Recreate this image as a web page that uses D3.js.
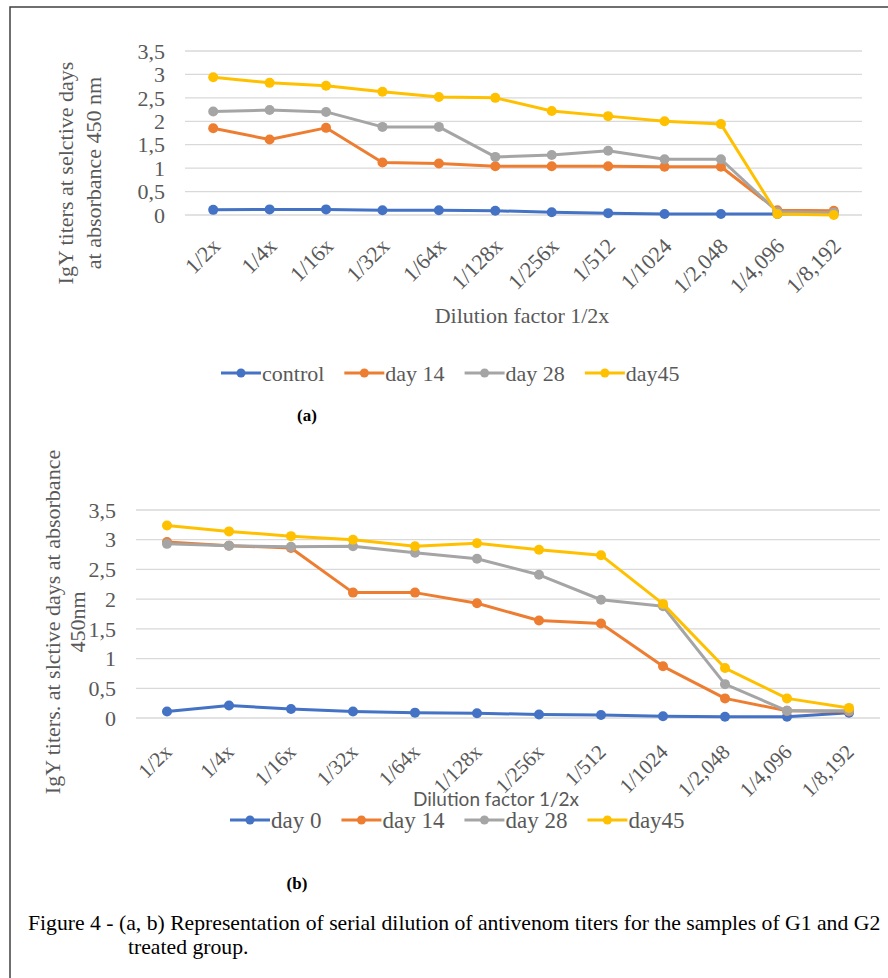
<!DOCTYPE html>
<html>
<head>
<meta charset="utf-8">
<script src="https://cdn.jsdelivr.net/npm/d3@7"></script>
<style>
  body { margin: 0; background: #fff; }
  text { font-family: "Liberation Serif", "Times New Roman", serif; }
</style>
</head>
<body>
<script>
// dilution steps shared by both panels
var categories = ["1/2x", "1/4x", "1/16x", "1/32x", "1/64x", "1/128x", "1/256x",
                  "1/512", "1/1024", "1/2,048", "1/4,096", "1/8,192"];
var yTicks = [0, 0.5, 1, 1.5, 2, 2.5, 3, 3.5];
var colors = ["#4472C4", "#ED7D31", "#A5A5A5", "#FFC000"];

// panel (a)
var seriesA = ["control", "day 14", "day 28", "day45"];
var controlA = [0.11, 0.12, 0.12, 0.10, 0.10, 0.09, 0.06, 0.04, 0.02, 0.02, 0.02, 0.05];
var day14A   = [1.85, 1.61, 1.86, 1.12, 1.10, 1.04, 1.04, 1.04, 1.03, 1.03, 0.10, 0.09];
var day28A   = [2.21, 2.24, 2.20, 1.88, 1.88, 1.24, 1.28, 1.37, 1.19, 1.19, 0.07, 0.05];
var day45A   = [2.94, 2.82, 2.76, 2.63, 2.52, 2.50, 2.22, 2.11, 2.00, 1.94, 0.02, 0.00];

// panel (b)
var seriesB = ["day 0", "day 14", "day 28", "day45"];
var day0B  = [0.11, 0.21, 0.15, 0.11, 0.09, 0.08, 0.06, 0.05, 0.03, 0.02, 0.02, 0.09];
var day14B = [2.96, 2.90, 2.86, 2.11, 2.11, 1.93, 1.64, 1.59, 0.87, 0.33, 0.12, 0.11];
var day28B = [2.93, 2.90, 2.88, 2.89, 2.78, 2.68, 2.41, 1.99, 1.88, 0.57, 0.12, 0.12];
var day45B = [3.24, 3.14, 3.06, 3.00, 2.89, 2.94, 2.83, 2.74, 1.92, 0.84, 0.33, 0.17];

var W = 888, H = 978;
var svg = d3.select("body").append("svg")
            .attr("width", W)
            .attr("height", H);

// frame of the figure (only left and top edges show)
svg.append("path")
   .attr("d", "M10," + H + "V7H" + W)
   .attr("fill", "none")
   .attr("stroke", "#404040")
   .attr("stroke-width", 1.5);

var fmt = function(d) { return String(d).replace(".", ","); };

function drawPanel(cfg) {
  var x = d3.scaleBand().domain(categories).range([cfg.x0, cfg.x1]);
  var y = d3.scaleLinear().domain([0, 3.5]).range([cfg.y0, cfg.y1]);
  var cx = function(d, i) { return x(categories[i]) + x.bandwidth() / 2; };
  var g = svg.append("g");

  // gridlines
  g.selectAll("line.grid")
   .data(yTicks)
   .enter()
   .append("line")
   .attr("x1", cfg.x0).attr("x2", cfg.x1)
   .attr("y1", function(d) { return y(d); })
   .attr("y2", function(d) { return y(d); })
   .attr("stroke", "#D9D9D9")
   .attr("stroke-width", 1.3);

  // y tick labels
  g.selectAll("text.ytick")
   .data(yTicks)
   .enter()
   .append("text")
   .attr("x", cfg.x0 - 20)
   .attr("y", function(d) { return y(d); })
   .attr("dy", "0.35em")
   .attr("text-anchor", "end")
   .attr("font-size", 22)
   .attr("fill", "#595959")
   .text(fmt);

  // x tick labels, slanted
  g.selectAll("text.xtick")
   .data(categories)
   .enter()
   .append("text")
   .attr("transform", function(d) {
     return "translate(" + (x(d) + x.bandwidth() / 2 + cfg.tickDx) + "," + (cfg.y0 + cfg.tickOff) + ") rotate(-45)";
   })
   .attr("dy", "0.35em")
   .attr("text-anchor", "end")
   .attr("font-size", cfg.tickSize)
   .attr("fill", "#595959")
   .text(function(d) { return d; });

  var line = d3.line()
               .x(cx)
               .y(function(d) { return y(d); });

  cfg.values.forEach(function(vals, k) {
    g.append("path")
     .datum(vals)
     .attr("d", line)
     .attr("fill", "none")
     .attr("stroke", colors[k])
     .attr("stroke-width", 3)
     .attr("stroke-linejoin", "round");
    g.selectAll("circle.s" + k)
     .data(vals)
     .enter()
     .append("circle")
     .attr("cx", cx)
     .attr("cy", function(d) { return y(d); })
     .attr("r", 5)
     .attr("fill", colors[k]);
  });

  // y axis title (rotated, one or two lines)
  var yt = g.append("text")
            .attr("transform", "translate(0," + cfg.titleY + ") rotate(-90)")
            .attr("text-anchor", "middle")
            .attr("font-size", 22)
            .attr("fill", "#595959");
  cfg.yTitle.forEach(function(t, i) {
    yt.append("tspan")
      .attr("x", 0)
      .attr("y", cfg.titleX[i])
      .attr("dy", "0.35em")
      .text(t);
  });

  // x axis title
  var xt = g.append("text")
            .attr("x", cfg.xTitlePos[0])
            .attr("y", cfg.xTitlePos[1])
            .attr("text-anchor", "middle")
            .attr("font-size", cfg.xTitleSize)
            .attr("fill", "#595959")
            .text("Dilution factor 1/2x");
  if (cfg.xTitleFont) xt.style("font-family", cfg.xTitleFont);

  // legend, laid out left to right
  var lx = cfg.legendX;
  cfg.names.forEach(function(n, k) {
    var it = g.append("g").attr("transform", "translate(" + lx + "," + cfg.legendY + ")");
    it.append("line")
      .attr("x1", 0).attr("x2", 40)
      .attr("stroke", colors[k])
      .attr("stroke-width", 3);
    it.append("circle")
      .attr("cx", 20).attr("r", 4.5)
      .attr("fill", colors[k]);
    var t = it.append("text")
              .attr("x", 41)
              .attr("dy", "0.35em")
              .attr("font-size", cfg.legendSize)
              .attr("fill", "#595959")
              .text(n);
    lx += 41 + t.node().getComputedTextLength() + 20;
  });

  // panel tag
  g.append("text")
   .attr("x", cfg.tagPos[0])
   .attr("y", cfg.tagPos[1])
   .attr("text-anchor", "middle")
   .attr("font-size", 17)
   .attr("font-weight", "bold")
   .attr("fill", "#000")
   .text(cfg.tag);
}

drawPanel({
  x0: 185, x1: 862, y0: 215, y1: 51, tickOff: 27, tickDx: 3, tickSize: 22,
  values: [controlA, day14A, day28A, day45A],
  names: seriesA,
  yTitle: ["IgY titers at selctive days", "at absorbance 450 nm"],
  titleX: [65, 93], titleY: 173,
  xTitlePos: [522, 323], xTitleSize: 22, xTitleFont: null,
  legendX: 221, legendY: 373, legendSize: 22,
  tag: "(a)", tagPos: [307, 421]
});

drawPanel({
  x0: 136, x1: 880, y0: 718, y1: 510, tickOff: 30, tickDx: 1, tickSize: 21,
  values: [day0B, day14B, day28B, day45B],
  names: seriesB,
  yTitle: ["IgY titers. at slctive days at absorbance", "450nm"],
  titleX: [52, 77], titleY: 622,
  xTitlePos: [496, 806], xTitleSize: 19, xTitleFont: "Lato, 'Liberation Sans', sans-serif",
  legendX: 230, legendY: 820, legendSize: 23,
  tag: "(b)", tagPos: [297, 889]
});

// caption
var cap = svg.append("text")
             .attr("font-size", 21.7)
             .attr("fill", "#000");
cap.append("tspan").attr("x", 28).attr("y", 930)
   .text("Figure 4 - (a, b) Representation of serial dilution of antivenom titers for the samples of G1 and G2");
cap.append("tspan").attr("x", 128).attr("y", 954)
   .text("treated group.");
</script>
</body>
</html>
